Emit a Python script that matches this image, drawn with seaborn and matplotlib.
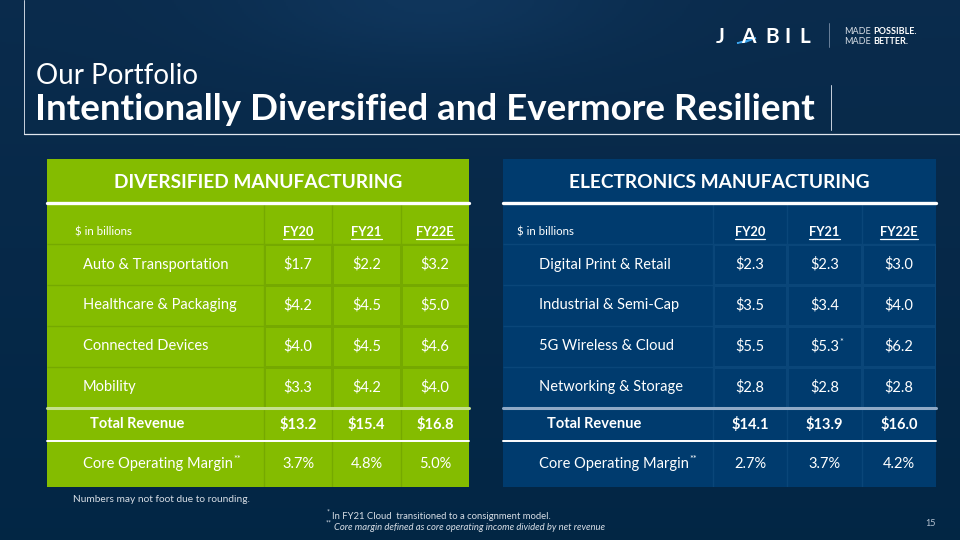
import numpy as np
import pandas as pd
import matplotlib.pyplot as plt
from matplotlib.colors import ListedColormap
import seaborn as sns

sns.set_theme(style="white")
plt.rcParams["font.family"] = ["Lato", "DejaVu Sans"]
plt.rcParams["mathtext.fontset"] = "dejavusans"

# --- datos ---
years = ["FY20", "FY21", "FY22E"]

dm_segments = ["Auto & Transportation", "Healthcare & Packaging",
               "Connected Devices", "Mobility"]
dm_fy20 = [1.7, 4.2, 4.0, 3.3]
dm_fy21 = [2.2, 4.5, 4.5, 4.2]
dm_fy22e = [3.2, 5.0, 4.6, 4.0]
dm_total = [13.2, 15.4, 16.8]
dm_margin = [3.7, 4.8, 5.0]

em_segments = ["Digital Print & Retail", "Industrial & Semi-Cap",
               "5G Wireless & Cloud", "Networking & Storage"]
em_fy20 = [2.3, 3.5, 5.5, 2.8]
em_fy21 = [2.3, 3.4, 5.3, 2.8]
em_fy22e = [3.0, 4.0, 6.2, 2.8]
em_total = [14.1, 13.9, 16.0]
em_margin = [2.7, 3.7, 4.2]
em_starred = [("5G Wireless & Cloud", "FY21")]

# --- layout (pixeles) ---
W, H = 960, 540
TOP, TITLE_LINE, HEAD_BOT, SEG_BOT, TOT_BOT, BOTTOM = 159, 203, 244, 408, 441, 487

GREEN, GREEN_GRID = "#84bc00", "#75a900"
BLUE, BLUE_GRID = "#003b6e", "#0a4679"

fig = plt.figure(figsize=(9.6, 5.4), dpi=100)


def px_box(x0, y0, x1, y1):
    return [x0 / W, 1 - y1 / H, (x1 - x0) / W, (y1 - y0) / H]


# fondo con degradado
bg = fig.add_axes([0, 0, 1, 1])
bg.set_xlim(0, W)
bg.set_ylim(H, 0)
bg.axis("off")
yy, xx = np.mgrid[0:1:270j, 0:1:480j]
c_top = np.array([0.04, 0.17, 0.30])
c_bot = np.array([0.01, 0.15, 0.27])
img = c_top * (1 - yy[..., None]) + c_bot * yy[..., None]
glow = np.exp(-(((xx - 0.45) / 0.2) ** 2 + ((yy - 0.0) / 0.12) ** 2))
img = img + glow[..., None] * np.array([0.02, 0.04, 0.06])
bg.imshow(np.clip(img, 0, 1), extent=[0, W, H, 0], aspect="auto", zorder=0)

# cabecera
bg.text(36, 76, "Our Portfolio", color="white", fontsize=20, va="center")
bg.text(35, 110, "Intentionally Diversified and Evermore Resilient",
        color="white", fontsize=26.5, fontweight="bold", va="center")

# logo
bg.fill([737, 756, 746], [43, 38, 42], color="#3aa3ec", zorder=2)
for letter, lx in zip("JABIL", [720, 748, 772, 788, 805]):
    bg.text(lx, 37, letter, color="white", fontsize=15, fontweight="bold",
            ha="center", va="center", zorder=5)
bg.plot([829, 829], [23, 47], color="#7a8fa8", lw=0.6)
for ty, word in [(31, "POSSIBLE."), (42, "BETTER.")]:
    bg.text(844, ty, "MADE", color="#d8dee6", fontsize=6.5, va="center")
    bg.text(873, ty, word, color="white", fontsize=6.5, va="center",
            fontweight="bold")

underline = []
sups = []


def draw_table(x0, x1, split, face, grid, title, segments,
               cols, totals, margins, label_x, total_x, unit_x, starred=()):
    ax = fig.add_axes(px_box(x0, TOP, x1, BOTTOM))
    ax.set_xlim(x0, x1)
    ax.set_ylim(BOTTOM, TOP)
    ax.axis("off")
    ax.axhspan(TOP, BOTTOM, color=face, zorder=0)

    edges = np.linspace(split, x1, len(years) + 1)
    centers = (edges[:-1] + edges[1:]) / 2
    seg_edges = np.linspace(HEAD_BOT, SEG_BOT, len(segments) + 1)

    ax.text((x0 + x1) / 2, (TOP + TITLE_LINE) / 2 + 1, title, color="white",
            fontsize=13.8, fontweight="bold", ha="center", va="center")

    # cabecera de columnas
    hy = 232
    ax.text(unit_x, hy, "$ in billions", color="white", fontsize=8.3,
            va="center")
    for cx, yr in zip(centers, years):
        t = ax.text(cx, hy, yr, color="white", fontsize=9.2, fontweight="bold",
                    ha="center", va="center")
        underline.append(t)

    # etiquetas de segmentos
    for y, name in zip((seg_edges[:-1] + seg_edges[1:]) / 2, segments):
        ax.text(label_x, y, name, color="white", fontsize=10.5, va="center")

    # separadores
    ax.hlines(seg_edges[1:-1], x0, split, color=grid, lw=1)
    ax.hlines(HEAD_BOT, x0, x1, color=grid, lw=1)
    ax.vlines(edges[1:-1], TITLE_LINE, HEAD_BOT, color=grid, lw=1)
    ax.vlines(edges[1:-1], SEG_BOT, BOTTOM, color=grid, lw=1)
    ax.vlines(split, TITLE_LINE, BOTTOM, color=grid, lw=1)

    # total y margen
    ty = (SEG_BOT + TOT_BOT) / 2
    my = (TOT_BOT + BOTTOM) / 2
    ax.text(total_x, ty, "Total Revenue", color="white", fontsize=10.5,
            fontweight="bold", va="center")
    m = ax.text(label_x, my, "Core Operating Margin", color="white",
                fontsize=10.5, va="center")
    sups.append((m, "**"))
    for cx, tv, mv in zip(centers, totals, margins):
        ax.text(cx, ty, f"${tv:.1f}", color="white", fontsize=10.5,
                fontweight="bold", ha="center", va="center")
        ax.text(cx, my, f"{mv:.1f}%", color="white", fontsize=10.5,
                ha="center", va="center")

    # cuerpo: heatmap de un solo color con los valores anotados
    data = pd.DataFrame(dict(zip(years, cols)), index=segments)
    annot = data.map(lambda v: f"${v:.1f}")
    body = fig.add_axes(px_box(split, HEAD_BOT, x1, SEG_BOT))
    sns.heatmap(data, ax=body, cmap=ListedColormap([face]), annot=annot,
                fmt="", cbar=False, linewidths=1, linecolor=grid,
                xticklabels=False, yticklabels=False,
                annot_kws={"color": "white", "fontsize": 10.5})
    body.set_xlabel("")
    body.set_ylabel("")
    for seg, yr in starred:
        i, j = segments.index(seg), years.index(yr)
        for t in body.texts:
            if t.get_position() == (j + 0.5, i + 0.5):
                sups.append((t, "*"))


draw_table(47, 469, 264, GREEN, GREEN_GRID,
           "DIVERSIFIED MANUFACTURING", dm_segments,
           [dm_fy20, dm_fy21, dm_fy22e], dm_total, dm_margin, 83, 90, 75)
draw_table(503, 936, 713, BLUE, BLUE_GRID,
           "ELECTRONICS MANUFACTURING", em_segments,
           [em_fy20, em_fy21, em_fy22e], em_total, em_margin, 539, 547, 517,
           em_starred)

# capa superior para las lineas
ov = fig.add_axes([0, 0, 1, 1])
ov.set_xlim(0, W)
ov.set_ylim(H, 0)
ov.axis("off")
ov.patch.set_alpha(0)
ov.plot([24, 24], [0, 134], color="#c8d2de", lw=0.7)
ov.plot([24, W], [134, 134], color="#e0e6ee", lw=0.9)
ov.plot([831, 831], [85, 130], color="#c8d2de", lw=0.7)
for x0, x1, edge in [(47, 469, "#c5e08f"), (503, 936, "#8fa9c6")]:
    ov.plot([x0, x1], [TITLE_LINE, TITLE_LINE], color="white", lw=2.4)
    ov.plot([x0, x1], [SEG_BOT, SEG_BOT], color=edge, lw=2.2)
    ov.plot([x0, x1], [TOT_BOT, TOT_BOT], color="white", lw=1.4)

# notas
ov.text(73, 499, "Numbers may not foot due to rounding.", color="#d8dee6",
        fontsize=7.3, va="center")
ov.text(327, 512, "*", color="#d8dee6", fontsize=5, va="center")
ov.text(332, 516.5, "In FY21 Cloud  transitioned to a consignment model.",
        color="#d8dee6", fontsize=6.8, va="center")
ov.text(326, 523, "**", color="#d8dee6", fontsize=5, va="center")
ov.text(334, 527.5, "Core margin defined as core operating income divided by net revenue",
        color="#d8dee6", fontsize=6.8, va="center", style="italic")
ov.text(936, 524, "15", color="#b8c4d2", fontsize=6.5, ha="right", va="center")

# subrayados y superindices
fig.canvas.draw()
inv = ov.transData.inverted()
for t in underline:
    bb = t.get_window_extent()
    (ux0, uy), (ux1, _) = inv.transform([[bb.x0, bb.y0], [bb.x1, bb.y0]])
    ov.plot([ux0, ux1], [uy + 1, uy + 1], color="white", lw=0.9)
for t, s in sups:
    bb = t.get_window_extent()
    sx, sy = inv.transform([bb.x1, bb.y1])
    ov.text(sx + 0.5, sy + 3, s, color="white", fontsize=6.5, va="center")

fig.savefig("out.png", dpi=100)
